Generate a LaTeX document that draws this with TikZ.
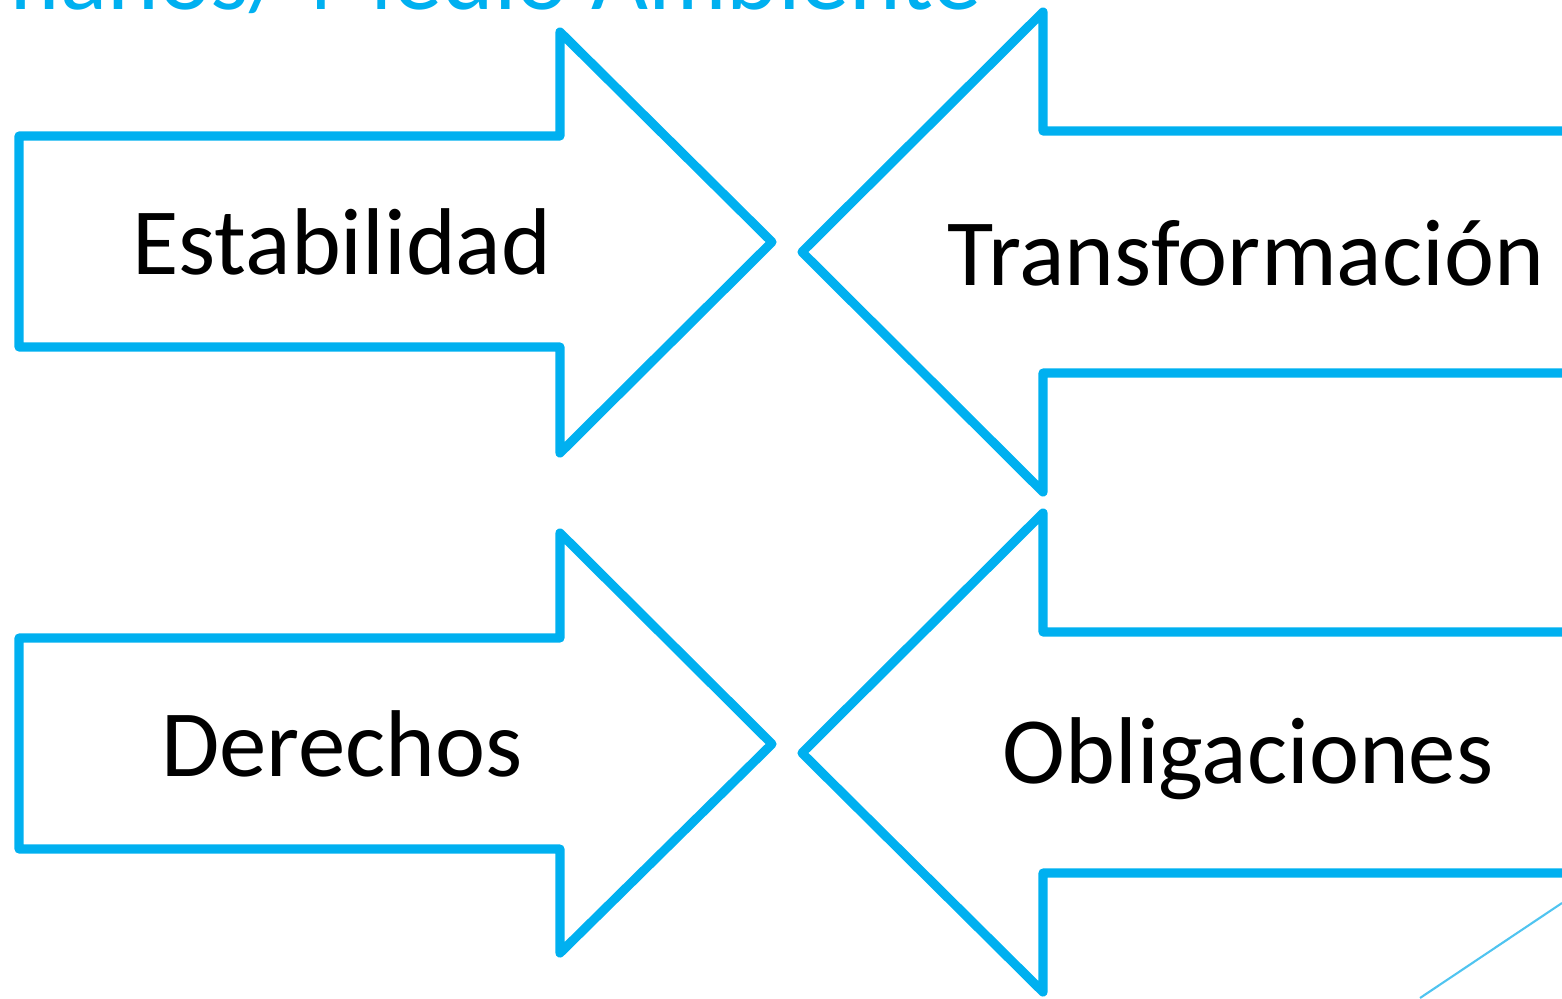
\documentclass[tikz,border=0pt]{standalone}
\usepackage{fontspec}
\setmainfont{Carlito}
\definecolor{pilblaa}{RGB}{0,176,240}
\definecolor{linjeblaa}{RGB}{80,196,240}
\tikzset{
    pil/.style={draw=pilblaa, line width=5.2pt, line join=round, line cap=round},
    tekst/.style={anchor=base, font=\fontsize{54}{60}\selectfont, inner sep=0pt},
}
\begin{document}
\begin{tikzpicture}[x=0.02cm,y=-0.02cm]
    \useasboundingbox (0,0) rectangle (1562,998);
    \clip (0,0) rectangle (1562,998);

    %Titel
        \node[anchor=base east, inner sep=0pt, text=pilblaa, font=\fontsize{56}{60}\selectfont] (titel) at (982,9) {Humanos/ Medio Ambiente};

    %Pile
        \draw[pil] (19,136)--(560,136)--(560,32)--(772,242)--(560,453)--(560,347)--(19,347)--cycle;
        \draw[pil] (19,638)--(560,638)--(560,533)--(772,744)--(560,953)--(560,849)--(19,849)--cycle;
        \draw[pil] (1600,131)--(1043,131)--(1043,12)--(802,252)--(1043,492)--(1043,373)--(1600,373);
        \draw[pil] (1600,632)--(1043,632)--(1043,513)--(802,753)--(1043,992)--(1043,873)--(1600,873);

    %Tekst
        \node[tekst] (stab) at (342,274) {Estabilidad};
        \node[tekst] (trans) at (1246,285) {Transformación};
        \node[tekst] (der) at (342,776) {Derechos};
        \node[tekst] (obl) at (1248,783) {Obligaciones};

    %
        \draw[linjeblaa, line width=1.2pt] (1420,998)--(1562,903);
\end{tikzpicture}
\end{document}
